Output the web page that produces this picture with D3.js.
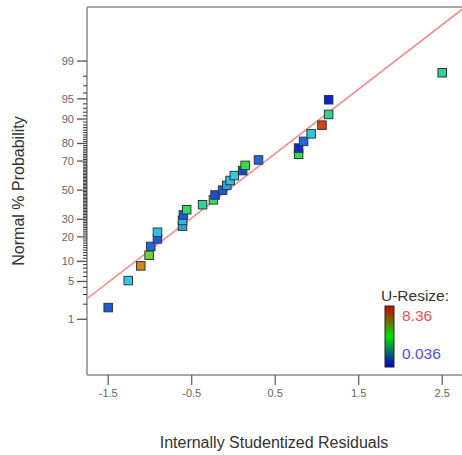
<!DOCTYPE html>
<html><head><meta charset="utf-8">
<script src="https://cdn.jsdelivr.net/npm/d3@7"></script>
<style>body{margin:0;background:#fff}svg{display:block}</style>
</head><body>
<svg id="c" width="462" height="455"></svg>
<script>
// Internally studentized residuals (sorted)
const residuals = [-1.50,-1.26,-1.11,-1.01,-0.99,-0.91,-0.91,-0.61,-0.61,-0.60,-0.56,-0.37,-0.24,-0.22,-0.13,-0.08,-0.04,0.01,0.11,0.14,0.30,0.78,0.78,0.84,0.93,1.06,1.14,1.14,2.50];
// Normal % probability of each point
const probabilities = [1.72,5.17,8.62,12.07,15.52,18.97,22.41,25.86,29.31,32.76,36.21,39.66,43.10,46.55,50.00,53.45,56.90,60.34,63.79,67.24,70.69,74.14,77.59,81.03,84.48,87.93,91.38,94.83,98.28];
// U-Resize value of each point (colour)
const uResize = [0.87,2.12,6.95,5.03,1.03,0.87,2.03,1.70,1.95,0.87,3.78,3.20,3.78,0.70,0.87,1.70,2.03,2.20,0.62,4.20,1.03,4.20,0.29,1.03,2.28,7.70,3.20,0.20,3.20];
const uRange = [0.036, 8.36];
const yMajorTicks = [1,5,10,20,30,50,70,80,90,95,99];
const xTicks = [-1.5,-0.5,0.5,1.5,2.5];
const refLine = {slope:1.16, intercept:0.08};

function probit(p){
  const a=[-3.969683028665376e+01,2.209460984245205e+02,-2.759285104469687e+02,1.383577518672690e+02,-3.066479806614716e+01,2.506628277459239e+00];
  const b=[-5.447609879822406e+01,1.615858368580409e+02,-1.556989798598866e+02,6.680131188771972e+01,-1.328068155288572e+01];
  const c=[-7.784894002430293e-03,-3.223964580411365e-01,-2.400758277161838e+00,-2.549732539343734e+00,4.374664141464968e+00,2.938163982698783e+00];
  const d=[7.784695709041462e-03,3.224671290700398e-01,2.445134137142996e+00,3.754408661907416e+00];
  const pl=0.02425;
  let q,r;
  if(p<pl){q=Math.sqrt(-2*Math.log(p));return (((((c[0]*q+c[1])*q+c[2])*q+c[3])*q+c[4])*q+c[5])/((((d[0]*q+d[1])*q+d[2])*q+d[3])*q+1);}
  if(p>1-pl){q=Math.sqrt(-2*Math.log(1-p));return -(((((c[0]*q+c[1])*q+c[2])*q+c[3])*q+c[4])*q+c[5])/((((d[0]*q+d[1])*q+d[2])*q+d[3])*q+1);}
  q=p-0.5;r=q*q;
  return (((((a[0]*r+a[1])*r+a[2])*r+a[3])*r+a[4])*r+a[5])*q/(((((b[0]*r+b[1])*r+b[2])*r+b[3])*r+b[4])*r+1);
}

const svg = d3.select("#c");
const L=87, T=7, R=462, B=375;
const x = d3.scaleLinear().domain([-1.754,2.737]).range([L,R]);
const y = d3.scaleLinear().domain([-3.33,3.30]).range([B,T]);
const yp = p => y(probit(p/100));
const font = "'Liberation Sans', Arial, sans-serif";

const color = d3.scaleLinear()
  .domain([0,0.12,0.25,0.5,0.75,0.9,1].map(f=>uRange[0]+f*(uRange[1]-uRange[0])))
  .range(["#1010d0","#2068e0","#30c8e8","#30e040","#d0c020","#e05010","#d01010"]);

// frame
svg.append("line").attr("x1",L).attr("x2",R).attr("y1",T).attr("y2",T).attr("stroke","#8a8a8a").attr("stroke-width",1.5);
svg.append("line").attr("x1",L).attr("x2",L).attr("y1",T).attr("y2",B).attr("stroke","#8a8a8a").attr("stroke-width",1.5);
svg.append("line").attr("x1",L).attr("x2",R).attr("y1",B).attr("y2",B).attr("stroke","#8a8a8a").attr("stroke-width",1.5);

// y minor ticks
const minor = d3.range(2,99).filter(v=>!yMajorTicks.includes(v));
svg.append("g").selectAll("line").data(minor).join("line")
  .attr("x1",L-4).attr("x2",L).attr("y1",d=>yp(d)).attr("y2",d=>yp(d))
  .attr("stroke","#333").attr("stroke-width",1);
// y major ticks
const yg = svg.append("g");
yg.selectAll("line").data(yMajorTicks).join("line")
  .attr("x1",L-10).attr("x2",L).attr("y1",d=>yp(d)).attr("y2",d=>yp(d))
  .attr("stroke","#555").attr("stroke-width",1.3);
yg.selectAll("text").data(yMajorTicks).join("text")
  .attr("x",L-13).attr("y",d=>yp(d)).attr("dy","0.35em").attr("text-anchor","end")
  .attr("font-family",font).attr("font-size",11).attr("fill","#666").text(d=>d);

// x ticks
const xg = svg.append("g");
xg.selectAll("line").data(xTicks).join("line")
  .attr("x1",d=>x(d)).attr("x2",d=>x(d)).attr("y1",B).attr("y2",B+10)
  .attr("stroke","#666").attr("stroke-width",1.3);
xg.selectAll("text").data(xTicks).join("text")
  .attr("x",d=>x(d)).attr("y",B+22).attr("text-anchor","middle")
  .attr("font-family",font).attr("font-size",11).attr("fill","#666").text(d=>d.toFixed(1));

// reference line
svg.append("defs").append("clipPath").attr("id","clip").append("rect").attr("x",L).attr("y",T).attr("width",R-L).attr("height",B-T);
const xd = x.domain();
svg.append("line").attr("clip-path","url(#clip)")
  .attr("x1",x(xd[0])).attr("y1",y(refLine.intercept+refLine.slope*xd[0]))
  .attr("x2",x(xd[1])).attr("y2",y(refLine.intercept+refLine.slope*xd[1]))
  .attr("stroke","#f08c8c").attr("stroke-width",1.6);

// points
const pts = residuals.map((r,i)=>({r, p:probabilities[i], u:uResize[i]}));
const s = 8.5;
svg.append("g").selectAll("rect").data(pts).join("rect")
  .attr("x",d=>x(d.r)-s/2).attr("y",d=>yp(d.p)-s/2).attr("width",s).attr("height",s)
  .attr("fill",d=>color(d.u)).attr("stroke","#2a3a3a").attr("stroke-width",1);

// axis titles
svg.append("text").attr("x",274).attr("y",448).attr("text-anchor","middle")
  .attr("font-family",font).attr("font-size",16).attr("fill","#333").text("Internally Studentized Residuals");
svg.append("text").attr("transform","translate(24,191) rotate(-90)").attr("text-anchor","middle")
  .attr("font-family",font).attr("font-size",16).attr("fill","#333").text("Normal % Probability");

// legend
const grad = svg.select("defs").append("linearGradient").attr("id","lg").attr("x1",0).attr("y1",0).attr("x2",0).attr("y2",1);
[["0%","#d00000"],["50%","#00e000"],["100%","#0000c8"]].forEach(([o,c])=>grad.append("stop").attr("offset",o).attr("stop-color",c));
svg.append("rect").attr("x",385).attr("y",306).attr("width",9).attr("height",61)
  .attr("fill","url(#lg)").attr("stroke","#222").attr("stroke-width",1);
svg.append("text").attr("x",381).attr("y",301).attr("font-family",font).attr("font-size",15.5).attr("fill","#333").text("U-Resize:");
svg.append("text").attr("x",402).attr("y",321).attr("font-family",font).attr("font-size",15.5).attr("fill","#e05555").text(uRange[1]);
svg.append("text").attr("x",402).attr("y",359).attr("font-family",font).attr("font-size",15.5).attr("fill","#5050e0").text(uRange[0]);
</script>
</body></html>
